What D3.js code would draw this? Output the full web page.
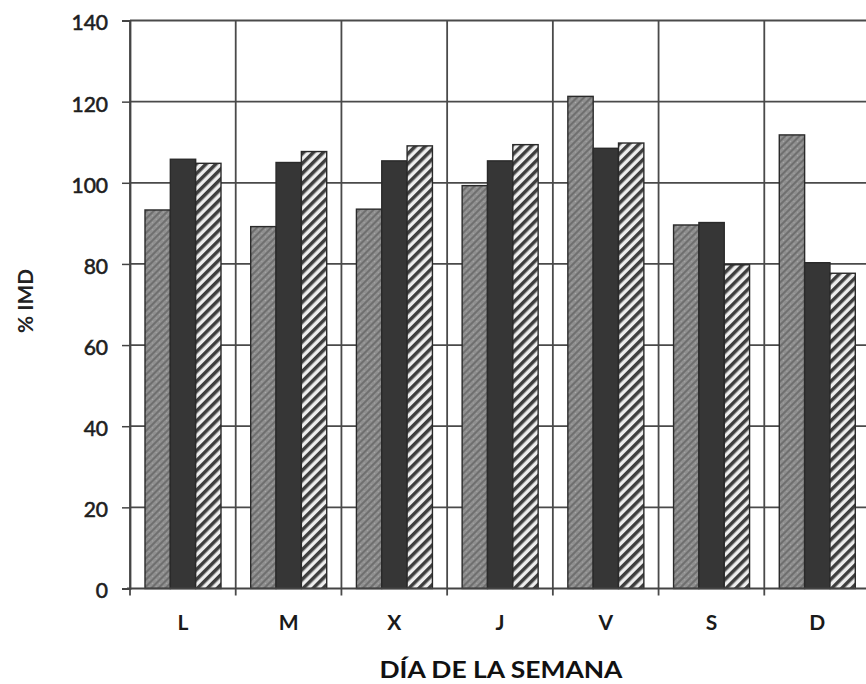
<!DOCTYPE html>
<html>
<head>
<meta charset="utf-8">
<script src="https://cdn.jsdelivr.net/npm/d3@7"></script>
<style>
  html, body { margin: 0; padding: 0; background: #fff; }
  svg { display: block; }
</style>
</head>
<body>
<svg id="chart" width="866" height="684"></svg>
<script>
// ---- data ----
const categories = ["L", "M", "X", "J", "V", "S", "D"];
const seriesNames = ["serie1", "serie2", "serie3"];
const serie1 = [93.3, 89.2, 93.5, 99.3, 121.3, 89.6, 111.8];
const serie2 = [105.8, 105.0, 105.4, 105.4, 108.5, 90.2, 80.3];
const serie3 = [104.8, 107.7, 109.1, 109.4, 109.8, 79.8, 77.7];
const yTicks = [0, 20, 40, 60, 80, 100, 120, 140];
const yLabel = "% IMD";
const xLabel = "DÍA DE LA SEMANA";

const seriesValues = [serie1, serie2, serie3];

// ---- layout ----
const svg = d3.select("#chart");
const plotL = 130, plotR = 870, plotT = 20.5, plotB = 588.5;

const x0 = d3.scaleBand().domain(categories).range([plotL, plotR]).paddingInner(0).paddingOuter(0);
const x1 = d3.scaleBand().domain(seriesNames).range([15, 91]).padding(0);
const y = d3.scaleLinear().domain([0, 140]).range([plotB, plotT]);

// ---- patterns ----
const defs = svg.append("defs");
const p1 = defs.append("pattern").attr("id", "pat1").attr("patternUnits", "userSpaceOnUse")
  .attr("width", 5).attr("height", 5).attr("patternTransform", "rotate(45)");
p1.append("rect").attr("width", 5).attr("height", 5).attr("fill", "#8f8f8f");
p1.append("rect").attr("width", 2).attr("height", 5).attr("fill", "#6f6f6f");
p1.append("rect").attr("x", 3).attr("y", 1).attr("width", 1).attr("height", 1).attr("fill", "#acacac");

const p3 = defs.append("pattern").attr("id", "pat3").attr("patternUnits", "userSpaceOnUse")
  .attr("width", 7).attr("height", 7).attr("patternTransform", "rotate(45)");
p3.append("rect").attr("width", 7).attr("height", 7).attr("fill", "#eeeeee");
p3.append("rect").attr("width", 3.5).attr("height", 7).attr("fill", "#3e3e3e");

const fills = ["url(#pat1)", "#363636", "url(#pat3)"];

// ---- grid ----
const grid = svg.append("g").attr("stroke", "#4a4a4a").attr("stroke-width", 1.8);
grid.selectAll("line.h").data(yTicks.filter(t => t > 0)).join("line")
  .attr("x1", plotL).attr("x2", plotR)
  .attr("y1", d => y(d)).attr("y2", d => y(d));
const bounds = categories.map(c => x0(c)).concat([plotR]);
grid.selectAll("line.v").data(bounds).join("line")
  .attr("x1", d => d).attr("x2", d => d)
  .attr("y1", plotT).attr("y2", plotB + 7);

// ---- bars ----
const groups = svg.append("g").selectAll("g").data(categories).join("g")
  .attr("transform", c => `translate(${x0(c)},0)`);
groups.selectAll("rect").data((c, i) => seriesNames.map((s, j) => ({ s, j, v: seriesValues[j][i] })))
  .join("rect")
  .attr("x", d => x1(d.s))
  .attr("width", x1.bandwidth())
  .attr("y", d => y(d.v))
  .attr("height", d => y(0) - y(d.v))
  .attr("fill", d => fills[d.j])
  .attr("stroke", "#2a2a2a")
  .attr("stroke-width", 1.4);

// ---- axes ----
const yAxis = d3.axisLeft(y).tickValues(yTicks).tickSize(8).tickPadding(14);
const gy = svg.append("g").attr("transform", `translate(${plotL},0)`).call(yAxis);
gy.select(".domain").attr("stroke", "#444").attr("stroke-width", 1.8);
gy.selectAll(".tick line").attr("stroke", "#444").attr("stroke-width", 1.5);
gy.selectAll(".tick text").attr("font-family", "Lato, sans-serif").attr("font-size", 21)
  .attr("font-weight", 400).attr("fill", "#1e1e1e").attr("stroke", "#1e1e1e").attr("stroke-width", 0.6)
  .attr("dy", "0.45em");

svg.append("line").attr("x1", plotL - 3).attr("x2", plotR).attr("y1", plotB).attr("y2", plotB)
  .attr("stroke", "#444").attr("stroke-width", 1.8);

const xAxis = d3.axisBottom(x0).tickSize(0).tickPadding(26.5);
const gx = svg.append("g").attr("transform", `translate(0,${plotB})`).call(xAxis);
gx.select(".domain").remove();
gx.selectAll(".tick text").attr("font-family", "Lato, sans-serif").attr("font-size", 21)
  .attr("font-weight", 700).attr("fill", "#1a1a1a");

// ---- labels ----
svg.append("text").attr("transform", "translate(33,301) rotate(-90)")
  .attr("text-anchor", "middle").attr("font-family", "Lato, sans-serif").attr("font-size", 20)
  .attr("font-weight", 700).attr("fill", "#222")
  .attr("textLength", 64).attr("lengthAdjust", "spacingAndGlyphs").text(yLabel);

svg.append("text").attr("x", 501).attr("y", 678)
  .attr("text-anchor", "middle").attr("font-family", "Lato, sans-serif").attr("font-size", 23)
  .attr("font-weight", 700).attr("fill", "#111")
  .attr("textLength", 243).attr("lengthAdjust", "spacingAndGlyphs").text(xLabel);
</script>
</body>
</html>
